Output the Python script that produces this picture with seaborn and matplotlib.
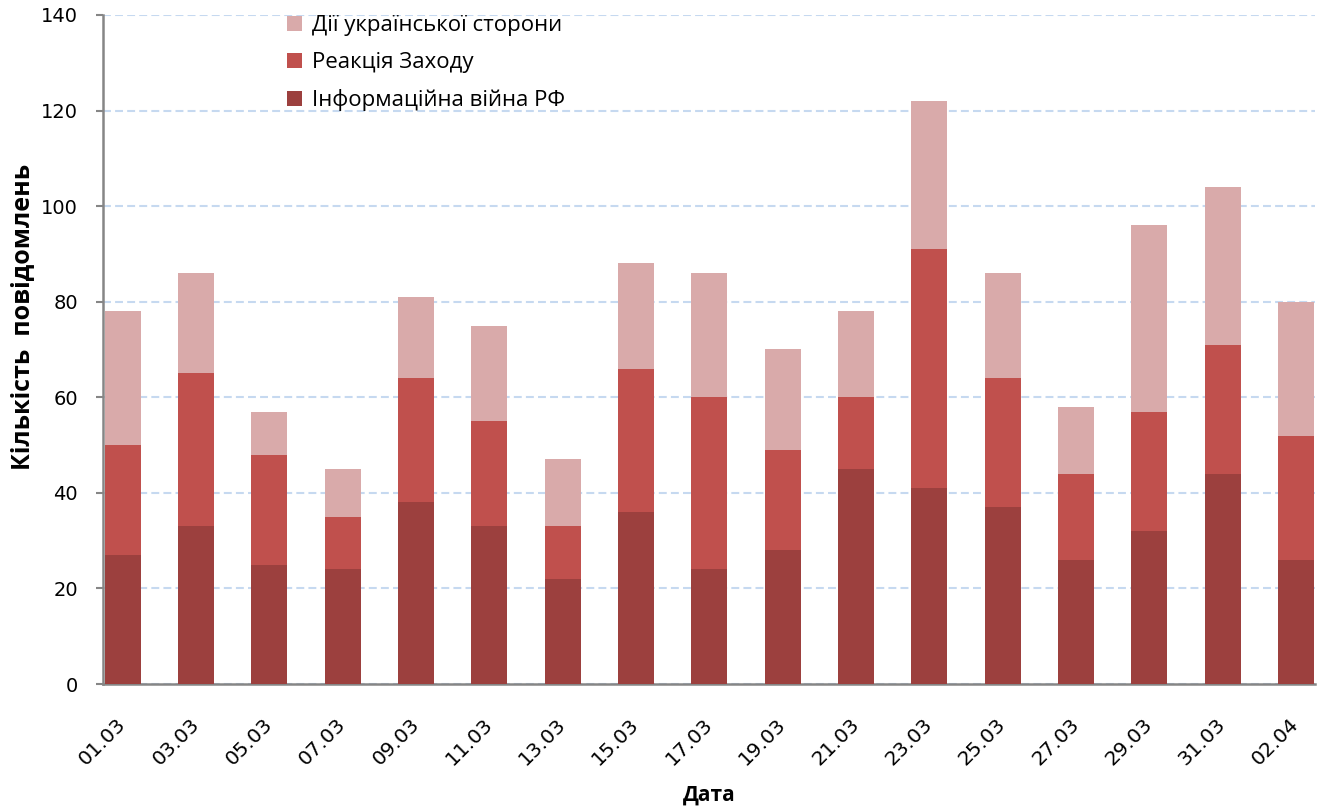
import matplotlib
matplotlib.use("Agg")
import matplotlib.pyplot as plt
import seaborn as sns
import pandas as pd
import numpy as np
from matplotlib.patches import Patch

dates = ["01.03", "03.03", "05.03", "07.03", "09.03", "11.03", "13.03", "15.03", "17.03",
         "19.03", "21.03", "23.03", "25.03", "27.03", "29.03", "31.03", "02.04"]
info_war = [27, 33, 25, 24, 38, 33, 22, 36, 24, 28, 45, 41, 37, 26, 32, 44, 26]
west_reaction = [23, 32, 23, 11, 26, 22, 11, 30, 36, 21, 15, 50, 27, 18, 25, 27, 26]
ukr_actions = [28, 21, 9, 10, 17, 20, 14, 22, 26, 21, 18, 31, 22, 14, 39, 33, 28]

labels = ["Дії української сторони", "Реакція Заходу", "Інформаційна війна РФ"]
c_dark = "#9C403E"
c_mid = "#C0504D"
c_light = "#D9AAAA"

df = pd.DataFrame({"date": dates, "dark": info_war, "mid": west_reaction, "light": ukr_actions})
df["lvl1"] = df["dark"]
df["lvl2"] = df["dark"] + df["mid"]
df["lvl3"] = df["lvl2"] + df["light"]

sns.set_theme(style="white")
plt.rcParams["font.family"] = ["DejaVu Sans"]

fig = plt.figure(figsize=(13.22, 8.09), dpi=100)
ax = fig.add_axes([0.0779, 0.1545, 0.9168, 0.827])

for col, color in [("lvl3", c_light), ("lvl2", c_mid), ("lvl1", c_dark)]:
    sns.barplot(data=df, x="date", y=col, color=color, width=0.49, ax=ax,
                saturation=1, linewidth=0, edgecolor="none", zorder=3)

ax.set_ylim(0, 140)
ax.set_xlim(-0.27, 16.26)
ax.set_yticks(np.arange(0, 141, 20))
ax.yaxis.grid(True, linestyle=(0, (3.8, 2)), color="#C6D9F0", linewidth=1.5, zorder=0)
ax.xaxis.grid(False)
ax.set_axisbelow(True)

for s in ["top", "right"]:
    ax.spines[s].set_visible(False)
for s in ["left", "bottom"]:
    ax.spines[s].set_color("#868686")
    ax.spines[s].set_linewidth(1.8)

ax.tick_params(axis="y", which="both", left=True, length=5, width=1.5, color="#868686",
               labelsize=14, pad=13, labelcolor="black")
ax.tick_params(axis="x", bottom=False, labelsize=14.5, labelcolor="black", pad=21)
plt.setp(ax.get_xticklabels(), rotation=45, ha="right", va="center", rotation_mode="anchor")

ax.set_xlabel("Дата", fontsize=15, fontweight="bold", family=["Open Sans", "DejaVu Sans"],
              color="black", va="center")
ax.xaxis.set_label_coords(0.5, -0.166)
ax.set_ylabel("Кількість  повідомлень", fontsize=18, fontweight="bold",
              family=["Open Sans", "DejaVu Sans"], color="black", va="center")
ax.yaxis.set_label_coords(-0.066, 0.549)

handles = [Patch(facecolor=c_light, edgecolor="none"),
           Patch(facecolor=c_mid, edgecolor="none"),
           Patch(facecolor=c_dark, edgecolor="none")]
leg = ax.legend(handles, labels, loc="upper left", bbox_to_anchor=(0.1356, 1.03), frameon=False,
                prop={"family": ["Open Sans", "DejaVu Sans"], "size": 16},
                handlelength=0.65, handleheight=0.65, handletextpad=0.45, labelspacing=0.72)
for t in leg.get_texts():
    t.set_color("black")

fig.savefig("out.png", dpi=100)
